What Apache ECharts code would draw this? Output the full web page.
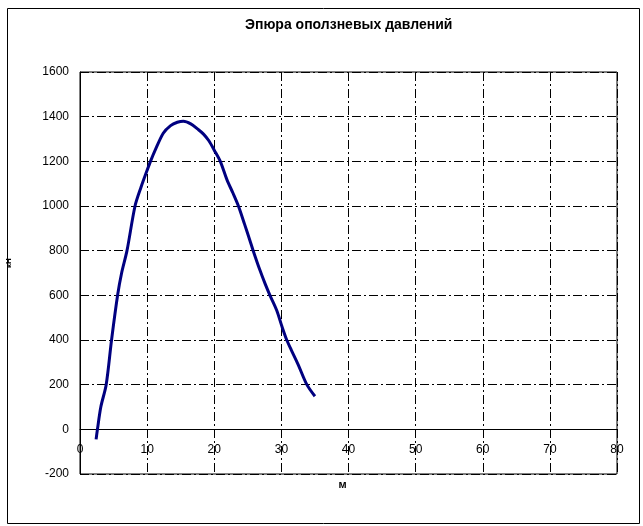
<!DOCTYPE html>
<html>
<head>
<meta charset="utf-8">
<script src="https://cdn.jsdelivr.net/npm/echarts@6/dist/echarts.min.js"></script>
<style>
html,body{margin:0;padding:0;background:#fff;}
#c{width:643px;height:526px;}
</style>
</head>
<body>
<div id="c"></div>
<script>
var titleText = 'Эпюра оползневых давлений';
var xName = 'м';
var yName = 'кН';
var xValues = [2.4, 2.6, 3.1, 3.9, 4.7, 5.6, 6.2, 7.0, 8.2, 9.1, 10.0, 10.5, 11.2, 12.4, 13.5, 14.5, 15.4, 16.5, 17.5, 18.4, 19.2, 20.0, 20.9, 21.9, 22.8, 23.6, 24.5, 25.3, 25.8, 26.8, 27.6, 28.3, 29.3, 30.1, 30.8, 31.5, 32.5, 33.8, 35.0];
var yValues = [-45, 0, 100, 200, 400, 600, 700, 800, 1000, 1085, 1160, 1200, 1250, 1326, 1360, 1375, 1380, 1368, 1345, 1322, 1292, 1250, 1200, 1117, 1057, 1000, 920, 847, 800, 713, 650, 600, 533, 459, 400, 354, 290, 200, 148];

var data = xValues.map(function (x, i) { return [x, yValues[i]]; });
var dashDot = [9, 3, 2, 3];
var font = '"Liberation Sans", Arial, sans-serif';
var yMin = -200, yMax = 1600;
var gridTop = 72, gridBottom = 52, chartH = 526;
// shift x-axis (line + labels) up to the zero level
var plotH = chartH - gridTop - gridBottom;
var zeroShift = -plotH * (0 - yMin) / (yMax - yMin);

var chart = echarts.init(document.getElementById('c'));
chart.setOption({
  backgroundColor: '#fff',
  animation: false,
  title: {
    text: titleText,
    left: 240,
    top: 13,
    textStyle: {fontFamily: font, fontSize: 14, fontWeight: 'bold', color: '#000'}
  },
  graphic: [
    {type: 'rect', left: 5, top: 6, shape: {width: 632, height: 515}, style: {fill: null, stroke: '#000', lineWidth: 1}, silent: true},
    {type: 'text', x: 5, y: 268, rotation: Math.PI / 2, style: {text: yName, font: 'bold 8px ' + font, fill: '#000'}, silent: true}
  ],
  grid: {
    left: 80, right: 26, top: gridTop, bottom: gridBottom,
    outerBoundsMode: 'none', containLabel: false,
    show: true, borderColor: '#000', borderWidth: 1, backgroundColor: 'transparent'
  },
  xAxis: {
    type: 'value', min: 0, max: 80, interval: 10,
    position: 'bottom', offset: zeroShift,
    name: xName, nameLocation: 'middle', nameGap: 50,
    nameTextStyle: {fontFamily: font, fontSize: 11, fontWeight: 'bold', color: '#000', padding: [0, 12, 0, 0]},
    axisLine: {onZero: false, lineStyle: {color: '#000', width: 1}},
    axisTick: {show: false},
    axisLabel: {fontFamily: font, fontSize: 12, color: '#000', margin: 14},
    splitLine: {show: true, lineStyle: {color: '#000', width: 1, type: dashDot}}
  },
  yAxis: {
    type: 'value', min: yMin, max: yMax, interval: 200,
    axisLine: {show: true, lineStyle: {color: '#000', width: 1}},
    axisTick: {show: false},
    axisLabel: {fontFamily: font, fontSize: 12, color: '#000', margin: 11, formatter: function (v) { return String(v); }},
    splitLine: {show: true, lineStyle: {color: '#000', width: 1, type: dashDot}}
  },
  series: [{
    type: 'line',
    data: data,
    showSymbol: false,
    smooth: 0.3,
    lineStyle: {color: '#000080', width: 3},
    itemStyle: {color: '#000080'}
  }]
});
</script>
</body>
</html>
